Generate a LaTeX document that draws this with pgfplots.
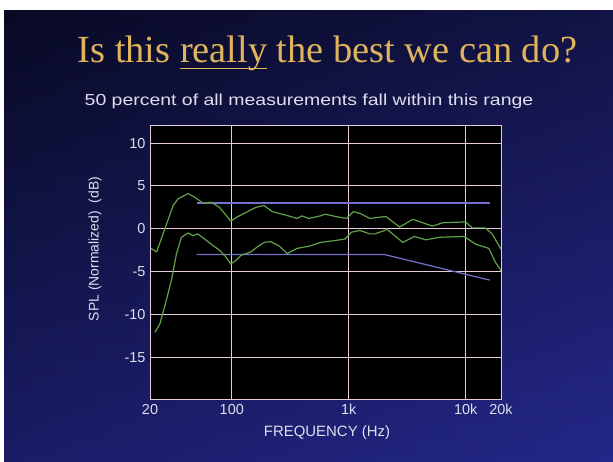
\documentclass[border=0pt]{standalone}
\usepackage{pgfplots}
\pgfplotsset{compat=1.18}
\usepackage{fontspec}
\setmainfont{Liberation Serif}
\newfontfamily\arial{Liberation Sans}
\newfontfamily\arialwide[FakeStretch=1.22]{Liberation Sans}

\definecolor{slatetop}{RGB}{9,10,34}
\definecolor{slatemid}{RGB}{24,27,96}
\definecolor{slatebot}{RGB}{36,39,136}
\definecolor{slateleft}{RGB}{8,10,40}
\definecolor{titlegold}{RGB}{224,180,92}
\definecolor{gridpink}{RGB}{230,204,222}
\definecolor{curvegreen}{RGB}{98,160,72}
\definecolor{rangeblue}{RGB}{118,112,205}
\definecolor{labelgray}{RGB}{222,222,236}

% underline that sits just under the baseline (cuts the descender)
\newcommand\ul[1]{\setbox0\hbox{#1}\rlap{\color{titlegold}\rule[-6.5bp]{\wd0}{1.8bp}}\box0\relax}

\begin{document}
\begin{tikzpicture}[x=1bp,y=1bp]
% slide background, 613 x 462, y upward
\fill[white] (0,0) rectangle (613,462);
\shade[top color=slatetop, middle color=slatemid, bottom color=slatebot] (4,0) rectangle (613,451);
\shade[left color=slateleft, right color=slatebot, opacity=0.35] (4,0) rectangle (613,451);

\node[anchor=base, text=titlegold, font=\fontsize{38.5}{42}\selectfont]
  at (327.5,399) {Is this \ul{really} the best we can do?};
\node[anchor=base, text=labelgray, font=\arialwide\fontsize{16}{18}\selectfont]
  at (309,356) {50 percent of all measurements fall within this range};

\begin{axis}[
  at={(150bp,62bp)}, anchor=south west,
  scale only axis, width=351bp, height=274bp,
  xmode=log, xmin=20, xmax=20000,
  ymin=-20, ymax=12,
  axis background/.style={fill=black},
  axis line style={gridpink, line width=1bp},
  grid=major,
  major grid style={gridpink, line width=0.9bp},
  xtick={20,100,1000,10000,20000},
  xticklabels={20,100,1k,10k,20k},
  ytick={-15,-10,-5,0,5,10},
  major tick length=0pt,
  /pgf/number format/assume math mode=true,
  tick label style={font=\arial\fontsize{14.5}{16}\selectfont, text=labelgray},
  xticklabel style={yshift=-1bp},
  yticklabel style={xshift=-1bp},
]
% target range
\addplot[rangeblue, line width=1.2bp] coordinates {(50,3) (16000,3)};
\addplot[rangeblue, line width=1.2bp] coordinates {(50,-3) (2000,-3) (16000,-6)};

% upper 50 percent bound
\addplot[curvegreen, line width=1.2bp, line join=round] coordinates {
  (20.4,-2.3) (22.8,-2.7) (26.8,0.0) (31.5,2.7) (34.8,3.5) (42.3,4.1)
  (48,3.7) (56.6,3.0) (66.7,3.1) (78.4,2.5) (89,1.6) (98,0.9)
  (112,1.4) (128,1.8) (155,2.4) (171,2.6) (189,2.7) (222,2.0)
  (288,1.6) (361,1.2) (398,1.5) (454,1.2) (570,1.5) (628,1.7)
  (789,1.4) (959,1.2) (1092,2.0) (1245,1.8) (1513,1.2) (1962,1.4)
  (2091,1.4) (2717,0.2) (3523,1.1) (5200,0.3) (6325,0.7) (9960,0.8)
  (11350,0.1) (14720,0.1) (16790,-0.6) (18500,-1.6) (20000,-2.4)
};
% lower 50 percent bound
\addplot[curvegreen, line width=1.2bp, line join=round] coordinates {
  (22,-12.1) (24.3,-11.1) (26.8,-9.0) (30.5,-6.0) (33.7,-2.9) (37.1,-1.0)
  (42.3,-0.5) (46.6,-0.8) (51.3,-0.6) (58.5,-1.2) (66.7,-1.8) (78.4,-2.5)
  (89,-3.3) (98,-4.1) (109,-3.7) (120,-3.1) (146,-2.7) (166,-2.1)
  (189,-1.6) (215,-1.5) (253,-2.0) (297,-2.9) (361,-2.3) (469,-2.0)
  (570,-1.6) (740,-1.4) (929,-1.2) (1057,-0.4) (1245,-0.2) (1513,-0.6)
  (1668,-0.6) (2028,-0.2) (2091,0.0) (2898,-1.6) (3640,-0.9) (4560,-1.3)
  (5930,-1.0) (9660,-0.9) (12110,-1.8) (15740,-2.3) (17900,-3.9) (20000,-4.9)
};
\end{axis}

\node[rotate=90, text=labelgray, font=\arial\fontsize{14}{16}\selectfont]
  at (95,213) {SPL (Normalized)\ \ (dB)};
\node[text=labelgray, font=\arial\fontsize{15}{17}\selectfont]
  at (327,29) {FREQUENCY (Hz)};
\end{tikzpicture}
\end{document}
